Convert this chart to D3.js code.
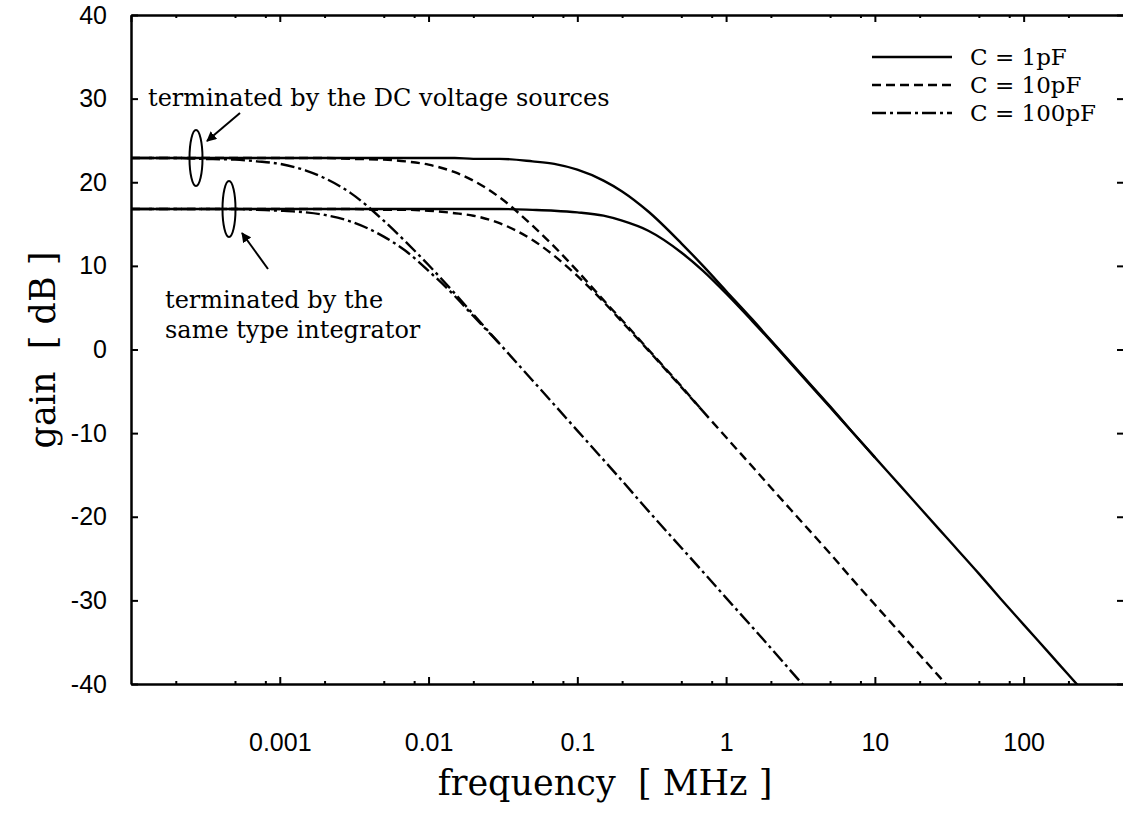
<!DOCTYPE html>
<html>
<head>
<meta charset="utf-8">
<script src="https://cdn.jsdelivr.net/npm/d3@7"></script>
<style>
  html, body { margin: 0; padding: 0; background: #fff; }
  svg { display: block; }
</style>
</head>
<body>
<svg id="chart" width="1123" height="816"></svg>
<script>
// ---------- data ----------
const freqMHz = [1e-4,1.5e-4,2e-4,3e-4,5e-4,7e-4,
                 1e-3,1.5e-3,2e-3,3e-3,5e-3,7e-3,
                 0.01,0.015,0.02,0.03,0.05,0.07,
                 0.1,0.15,0.2,0.3,0.5,0.7,
                 1,1.5,2,3,5,7,
                 10,15,20,30,50,70,
                 100,150,200,300];

// terminated by DC voltage sources (upper family)
const gain1pF_dc = [22.9,22.9,22.9,22.9,22.9,22.9,
                    22.9,22.9,22.9,22.9,22.9,22.9,
                    22.9,22.9,22.8,22.8,22.5,22.2,
                    21.5,20.2,18.9,16.5,12.7,10.0,
                    7.0,3.6,1.1,-2.4,-6.8,-9.8,
                    -12.9,-16.4,-18.9,-22.4,-26.8,-29.8,
                    -32.9,-36.4,-38.9,-42.4];
const gain10pF_dc = [22.9,22.9,22.9,22.9,22.9,22.9,
                     22.9,22.9,22.9,22.8,22.7,22.5,
                     22.1,21.2,20.2,18.2,14.8,12.3,
                     9.4,5.9,3.5,0.0,-4.4,-7.4,
                     -10.5,-14.0,-16.5,-20.0,-24.4,-27.4,
                     -30.5,-34.0,-36.5,-40.0,-44.4,null,
                     null,null,null,null];
const gain100pF_dc = [22.9,22.9,22.9,22.8,22.7,22.5,
                      22.2,21.4,20.5,18.7,15.4,12.9,
                      10.1,6.7,4.2,0.7,-3.7,-6.6,
                      -9.7,-13.2,-15.7,-19.3,-23.7,-26.6,
                      -29.7,-33.2,-35.7,-39.3,-43.7,null,
                      null,null,null,null,null,null,
                      null,null,null,null];

// terminated by the same type integrator (lower family); after it joins
// the upper curve the two coincide, so only the joined part is kept once
const gain1pF_int = [16.8,16.8,16.8,16.8,16.8,16.8,
                     16.8,16.8,16.8,16.8,16.8,16.8,
                     16.8,16.8,16.8,16.8,16.7,16.6,
                     16.4,16.0,15.4,14.2,11.6,9.4,
                     6.7,3.4,1.0,-2.5,-6.9,-9.8,
                     -12.9,null,null,null,null,null,
                     null,null,null,null];
const gain10pF_int = [16.8,16.8,16.8,16.8,16.8,16.8,
                      16.8,16.8,16.8,16.8,16.7,16.7,
                      16.6,16.3,16.0,15.1,13.1,11.2,
                      8.8,5.7,3.3,-0.1,-4.5,-7.4,
                      null,null,null,null,null,null,
                      null,null,null,null,null,null,
                      null,null,null,null];
const gain100pF_int = [16.8,16.8,16.8,16.8,16.8,16.7,
                       16.6,16.4,16.1,15.3,13.5,11.8,
                       9.4,6.4,4.0,0.7,null,null,
                       null,null,null,null,null,null,
                       null,null,null,null,null,null,
                       null,null,null,null,null,null,
                       null,null,null,null];

const seriesNames = ["C = 1pF", "C = 10pF", "C = 100pF"];
const xTickValues = [0.001, 0.01, 0.1, 1, 10, 100];
const xTickLabels = ["0.001", "0.01", "0.1", "1", "10", "100"];
const yTickValues = [-40, -30, -20, -10, 0, 10, 20, 30, 40];
const yTickLabels = ["-40", "-30", "-20", "-10", "0", "10", "20", "30", "40"];
const xDomain = [1e-4, 480];
const yDomain = [-40, 40];

// ---------- layout ----------
const L = 131, T = 15, R = 1125, B = 684;
const svg = d3.select("#chart");
const x = d3.scaleLog().domain(xDomain).range([L, R]);
const y = d3.scaleLinear().domain(yDomain).range([B, T]);

const sansFont = "'Liberation Sans', Arial, Helvetica, sans-serif";
const serifFont = "'DejaVu Serif', 'Liberation Serif', serif";

// minor ticks at 2,5,8 of each decade
const minorX = [];
for (let e = -4; e <= 2; e++) [2, 5, 8].forEach(m => {
  const v = m * Math.pow(10, e);
  if (v > xDomain[0] && v < xDomain[1]) minorX.push(v);
});
const majorX = [1e-4].concat(xTickValues);

function styleAxis(g, sw) {
  g.selectAll(".domain").attr("stroke", "#000").attr("stroke-width", sw);
  g.selectAll(".tick line").attr("stroke", "#000").attr("stroke-width", 2);
}

// bottom axis
const gB = svg.append("g").attr("transform", `translate(0,${B})`)
  .call(d3.axisBottom(x).tickValues(xTickValues)
    .tickFormat((d, i) => xTickLabels[i]).tickSizeInner(-7).tickSizeOuter(0).tickPadding(49));
styleAxis(gB, 2.5);
gB.selectAll("text").attr("font-family", sansFont).attr("font-size", 25).attr("fill", "#000");
svg.append("g").attr("transform", `translate(0,${B})`)
  .call(d3.axisBottom(x).tickValues(minorX).tickFormat("").tickSizeInner(-3).tickSizeOuter(0))
  .call(g => { g.select(".domain").remove(); g.selectAll("line").attr("stroke", "#000").attr("stroke-width", 2); });

// top axis
const gT = svg.append("g").attr("transform", `translate(0,${T})`)
  .call(d3.axisTop(x).tickValues(majorX).tickFormat("").tickSizeInner(-7).tickSizeOuter(0));
styleAxis(gT, 2.5);
svg.append("g").attr("transform", `translate(0,${T})`)
  .call(d3.axisTop(x).tickValues(minorX).tickFormat("").tickSizeInner(-3).tickSizeOuter(0))
  .call(g => { g.select(".domain").remove(); g.selectAll("line").attr("stroke", "#000").attr("stroke-width", 2); });

// left axis
const gL = svg.append("g").attr("transform", `translate(${L},0)`)
  .call(d3.axisLeft(y).tickValues(yTickValues)
    .tickFormat((d, i) => yTickLabels[i]).tickSizeInner(-7).tickSizeOuter(0).tickPadding(24));
styleAxis(gL, 2.5);
gL.selectAll("text").attr("font-family", sansFont).attr("font-size", 25).attr("fill", "#000");

// right axis (just outside the visible area, ticks point inward)
const gR = svg.append("g").attr("transform", `translate(${R},0)`)
  .call(d3.axisRight(y).tickValues(yTickValues).tickFormat("").tickSizeInner(-8).tickSizeOuter(0));
styleAxis(gR, 2.5);

// ---------- curves ----------
svg.append("defs").append("clipPath").attr("id", "plotclip")
  .append("rect").attr("x", L).attr("y", T).attr("width", R - L).attr("height", B - T);

const dashes = ["none", "9,5", "14,4,3,4"];
const curves = [
  {vals: gain1pF_dc, s: 0}, {vals: gain1pF_int, s: 0},
  {vals: gain10pF_dc, s: 1}, {vals: gain10pF_int, s: 1},
  {vals: gain100pF_dc, s: 2}, {vals: gain100pF_int, s: 2}
];
const line = d3.line()
  .defined(d => d.g !== null)
  .x(d => x(d.f)).y(d => y(d.g))
  .curve(d3.curveMonotoneX);

const gc = svg.append("g").attr("clip-path", "url(#plotclip)");
curves.forEach(c => {
  const pts = freqMHz.map((f, i) => ({f: f, g: c.vals[i]}));
  gc.append("path").datum(pts)
    .attr("d", line)
    .attr("fill", "none").attr("stroke", "#000")
    .attr("stroke-width", 2.4)
    .attr("stroke-dasharray", dashes[c.s]);
});

// ---------- legend ----------
const legY = [57, 85, 113];
seriesNames.forEach((n, i) => {
  svg.append("line").attr("x1", 872).attr("x2", 952).attr("y1", legY[i]).attr("y2", legY[i])
    .attr("stroke", "#000").attr("stroke-width", 2.4).attr("stroke-dasharray", dashes[i]);
  svg.append("text").attr("x", 970).attr("y", legY[i]).attr("dy", "0.35em")
    .attr("font-family", serifFont).attr("font-size", 23).attr("fill", "#000").text(n);
});

// ---------- annotations ----------
svg.append("defs").append("marker").attr("id", "arrow")
  .attr("viewBox", "0 0 10 10").attr("refX", 9).attr("refY", 5)
  .attr("markerWidth", 5).attr("markerHeight", 5).attr("orient", "auto")
  .append("path").attr("d", "M0,0 L10,5 L0,10 z").attr("fill", "#000");

const ann = svg.append("g").attr("font-family", serifFont).attr("font-size", 24).attr("fill", "#000");
ann.append("text").attr("x", 148).attr("y", 106).text("terminated by the DC voltage sources");
ann.append("text").attr("x", 165).attr("y", 308).text("terminated by the");
ann.append("text").attr("x", 165).attr("y", 338).text("same type integrator");

svg.append("ellipse").attr("cx", 196).attr("cy", y(22.9)).attr("rx", 6.5).attr("ry", 28)
  .attr("fill", "none").attr("stroke", "#000").attr("stroke-width", 2);
svg.append("ellipse").attr("cx", 229).attr("cy", y(16.8)).attr("rx", 6.5).attr("ry", 28)
  .attr("fill", "none").attr("stroke", "#000").attr("stroke-width", 2);
svg.append("line").attr("x1", 240).attr("y1", 113).attr("x2", 207).attr("y2", 141)
  .attr("stroke", "#000").attr("stroke-width", 2).attr("marker-end", "url(#arrow)");
svg.append("line").attr("x1", 268).attr("y1", 269).attr("x2", 242).attr("y2", 233)
  .attr("stroke", "#000").attr("stroke-width", 2).attr("marker-end", "url(#arrow)");

// ---------- axis titles ----------
svg.append("text").attr("transform", "translate(55,350) rotate(-90)")
  .attr("text-anchor", "middle").attr("font-family", serifFont).attr("font-size", 35)
  .attr("fill", "#000").attr("xml:space", "preserve").text("gain  [ dB ]");
svg.append("text").attr("x", 605).attr("y", 795)
  .attr("text-anchor", "middle").attr("font-family", serifFont).attr("font-size", 35)
  .attr("fill", "#000").attr("xml:space", "preserve").text("frequency  [ MHz ]");
</script>
</body>
</html>
